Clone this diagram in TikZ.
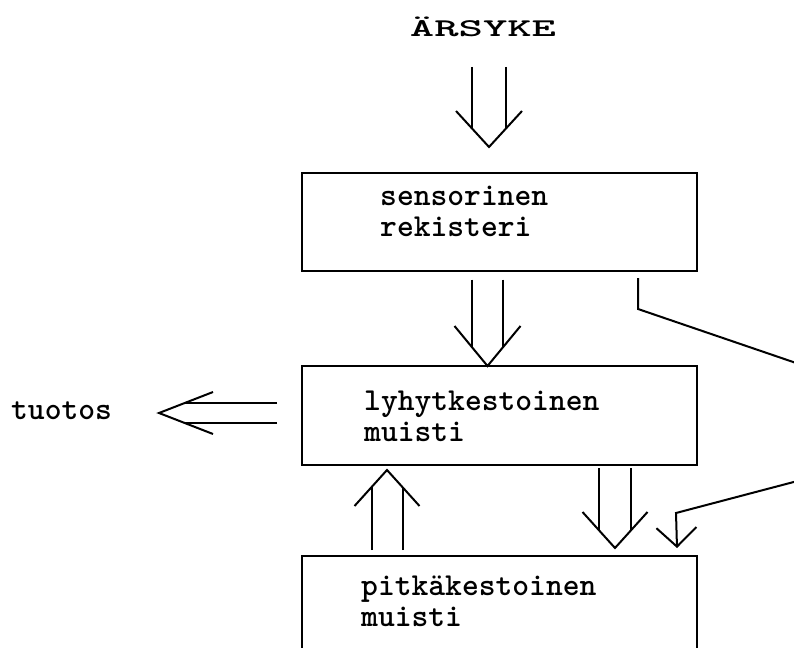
\documentclass[tikz,border=0pt]{standalone}
\usepackage{fontspec}
\usetikzlibrary{arrows.meta,calc}

\tikzset{
  line/.style={line width=2pt},
  box/.style={draw, line width=2pt, minimum width=395pt, inner sep=0pt},
  boxtext/.style={font=\ttfamily\bfseries\fontsize{32pt}{31pt}\selectfont,
    align=left, inner sep=0pt, anchor=base west},
  % #1 shaft half gap, #2 head half width, #3 head length, #4 shaft length
  pics/twin/.style n args={4}{code={
    \draw[line] (-#1,-#4) -- (-#1,{-#3*#1/#2}) (#1,-#4) -- (#1,{-#3*#1/#2});
    \draw[line] (-#2,-#3) -- (0,0) -- (#2,-#3);
  }},
}

\begin{document}
\begin{tikzpicture}[x=1pt, y=-1pt]
    \useasboundingbox (0,0) rectangle (794,647);
    \clip (0,0) rectangle (794,647);

    % boxes
    \node[box, minimum height=98pt] (sensreg) at (499.5,222) {};
    \node[box, minimum height=99pt] (stm) at (499.5,415.5) {};
    \node[box, minimum height=160pt, anchor=north] (ltm) at (499.5,555) {};

    % texts (anchored at the last line)
    \node[boxtext, anchor=base] (arsyke) at (483,37) {\scalebox{1.45}[0.8]{ÄRSYKE}};
    \node[boxtext] (sensregtext) at (380,236) {sensorinen\\rekisteri};
    \node[boxtext] (stmtext) at (364,441) {lyhytkestoinen\\muisti};
    \node[boxtext] (ltmtext) at (361,626) {pitkäkestoinen\\muisti};
    \node[boxtext] (tuotos) at (11,419) {tuotos};

    % double arrows
    \pic at ([xshift=-10.5pt, yshift=25pt]sensreg.north) {twin={17}{33}{36}{80}};
    \pic at ([xshift=-12pt, yshift=-1pt]stm.north) {twin={15.5}{33}{40}{86.5}};
    \pic at ([xshift=115.5pt, yshift=7pt]ltm.north) {twin={16}{32.5}{36}{80}};
    \pic[rotate=180] at ([xshift=-112.5pt, yshift=-4pt]stm.south) {twin={15.5}{32.5}{36}{80}};
    \pic[rotate=-90] at ([xshift=-142pt, yshift=2.5pt]stm.west) {twin={10}{21}{54}{118}};

    % bypass line from the register to long-term memory
    \draw[line, -{Straight Barb[length=19pt, width=40pt]}]
        ([xshift=-60pt, yshift=-6pt]sensreg.south east) -- ++(0,31)
        -- (900,398.5) -- (900,454) -- (676,513)
        -- ([xshift=-21pt, yshift=7pt]ltm.north east);
\end{tikzpicture}
\end{document}
